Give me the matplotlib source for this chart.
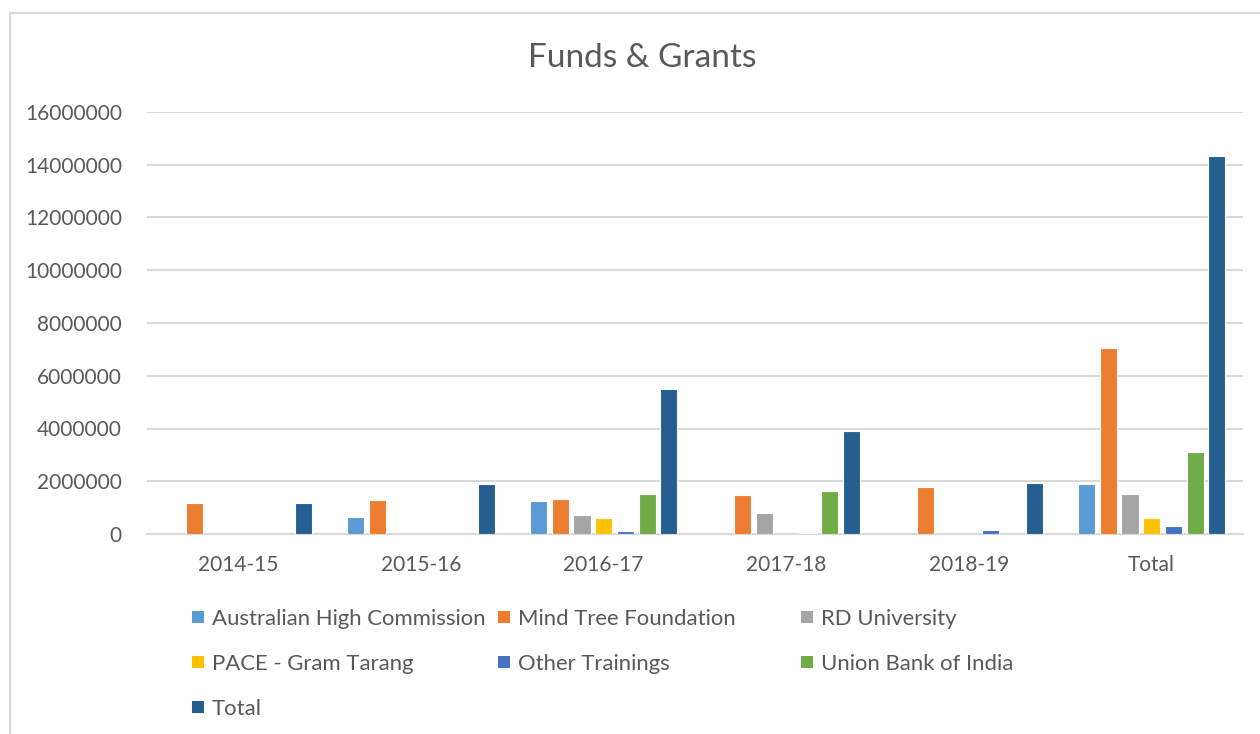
import matplotlib
matplotlib.use("Agg")
import matplotlib.pyplot as plt
from matplotlib.patches import Rectangle
import numpy as np

categories = ["2014-15", "2015-16", "2016-17", "2017-18", "2018-19", "Total"]
series_names = ["Australian High Commission", "Mind Tree Foundation", "RD University",
                "PACE - Gram Tarang", "Other Trainings", "Union Bank of India", "Total"]
australian_high_commission = [0, 630000, 1250000, 0, 0, 1880000]
mind_tree_foundation = [1175000, 1280000, 1340000, 1480000, 1780000, 7050000]
rd_university = [0, 0, 720000, 780000, 0, 1500000]
pace_gram_tarang = [0, 0, 610000, 0, 0, 610000]
other_trainings = [0, 0, 110000, 50000, 150000, 310000]
union_bank_of_india = [0, 0, 1500000, 1620000, 0, 3120000]
total = [1175000, 1880000, 5490000, 3920000, 1920000, 14330000]
yticks = [0, 2000000, 4000000, 6000000, 8000000, 10000000, 12000000, 14000000, 16000000]

series_values = [australian_high_commission, mind_tree_foundation, rd_university,
                 pace_gram_tarang, other_trainings, union_bank_of_india, total]
colors = ["#5B9BD5", "#ED7D31", "#A5A5A5", "#FFC000", "#4472C4", "#70AD47", "#255E91"]

plt.rcParams['font.family'] = ['Lato', 'DejaVu Sans']
txt = "#595959"

W, H = 1260, 734
fig = plt.figure(figsize=(W / 100, H / 100), dpi=100)
ax = fig.add_axes([147 / W, 1 - 534 / H, (1243 - 147) / W, (534 - 112) / H])

# chart border
fig.patches.append(Rectangle((10 / W, -0.05), 1.1, 1 - 13 / H + 0.05, transform=fig.transFigure,
                             fill=False, edgecolor="#D9D9D9", linewidth=1.5))

x = np.arange(len(categories))
slot = 0.119
bw = 0.094
n = len(series_names)
for i, (name, vals, c) in enumerate(zip(series_names, series_values, colors)):
    offs = (i - (n - 1) / 2) * slot
    ax.bar(x + offs, vals, width=bw, color=c, edgecolor="white", linewidth=0.8, label=name, zorder=3)

ax.set_xlim(-0.5, len(categories) - 0.5)
ax.set_ylim(0, 16000000)
ax.set_yticks(yticks)
ax.set_yticklabels([str(v) for v in yticks])
ax.set_xticks(x)
ax.set_xticklabels(categories)
ax.yaxis.grid(True, color="#D9D9D9", linewidth=1.5, zorder=0)
ax.set_axisbelow(True)
for s in ["top", "right", "left"]:
    ax.spines[s].set_visible(False)
ax.spines["bottom"].set_color("#D9D9D9")
ax.spines["bottom"].set_linewidth(1.5)
ax.tick_params(axis="both", length=0, labelsize=15, colors=txt)
ax.tick_params(axis="y", pad=18)
ax.tick_params(axis="x", pad=15)

fig.text(642 / W, 1 - 58 / H, "Funds & Grants", ha="center", va="center", fontsize=24, color=txt)

col_x = [192, 498, 801]
row_y = [617, 662, 707]
for i, (name, c) in enumerate(zip(series_names, colors)):
    cx = col_x[i % 3]
    cy = row_y[i // 3]
    fig.patches.append(Rectangle((cx / W, 1 - (cy + 6) / H), 12 / W, 12 / H,
                                 transform=fig.transFigure, facecolor=c, edgecolor="none"))
    fig.text((cx + 20) / W, 1 - (cy + 2) / H, name, ha="left", va="center", fontsize=15.9, color=txt)

fig.savefig("out.png", dpi=100)
